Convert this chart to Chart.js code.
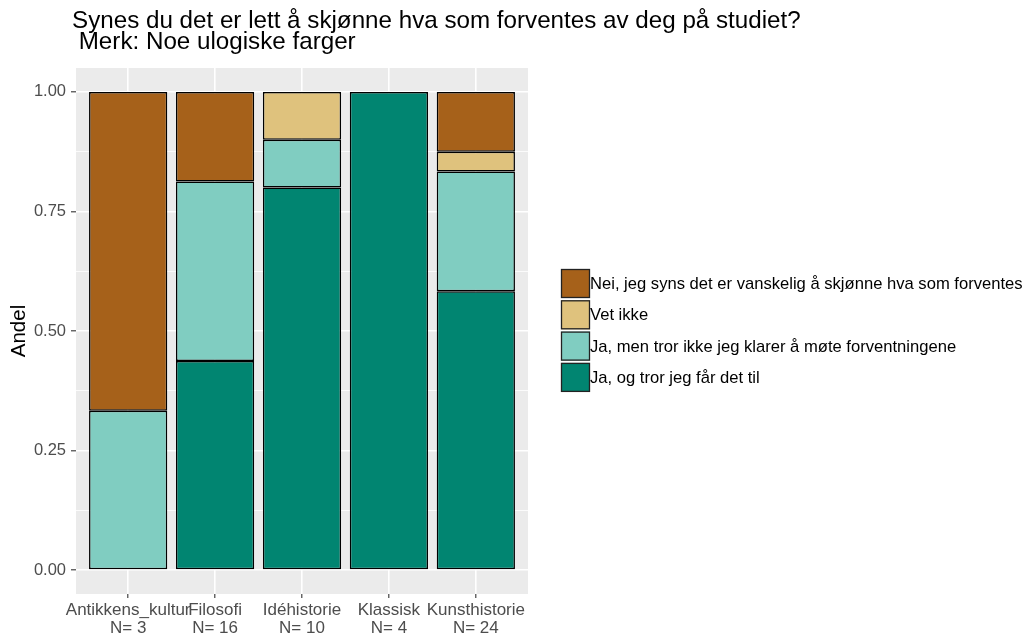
<!DOCTYPE html>
<html>
<head>
<meta charset="utf-8">
<script src="https://cdn.jsdelivr.net/npm/chart.js@4"></script>
<style>
  html, body { margin: 0; padding: 0; background: #ffffff; }
  canvas { display: block; }
</style>
</head>
<body>
<canvas id="grafico" width="1026" height="636"></canvas>
<script>
/* ===================== DATOS ===================== */

const titulo = ["Synes du det er lett å skjønne hva som forventes av deg på studiet?", " Merk: Noe ulogiske farger"];
const ejeY = "Andel";

const categorias = ["Antikkens_kultur", "Filosofi", "Idéhistorie", "Klassisk", "Kunsthistorie"];
const antall = [3, 16, 10, 4, 24];

// andeler per svaralternativ (nederst først)
const jaOg = [0, 0.4375, 0.8, 1, 0.5833];
const jaMen = [0.3333, 0.375, 0.1, 0, 0.25];
const vetIkke = [0, 0, 0.1, 0, 0.0417];
const nei = [0.6667, 0.1875, 0, 0, 0.125];

const etiquetas = [
  "Ja, og tror jeg får det til",
  "Ja, men tror ikke jeg klarer å møte forventningene",
  "Vet ikke",
  "Nei, jeg syns det er vanskelig å skjønne hva som forventes"
];
const colores = ["#018571", "#80CDC1", "#DFC27D", "#A6611A"];

const ticksY = [0, 0.125, 0.25, 0.375, 0.5, 0.625, 0.75, 0.875, 1];

/* ===================== ESTILO ===================== */

const FUENTE = "'Liberation Sans', Arial, sans-serif";
const GRIS_TEXTO = "#4D4D4D";
const esMayor = v => Math.abs(v * 4 - Math.round(v * 4)) < 1e-6;

/* ===================== PLUGINS ===================== */

const fondoPanel = {
  id: "fondoPanel",
  beforeDraw(chart) {
    const { ctx, chartArea: a } = chart;
    ctx.save();
    ctx.fillStyle = "#EBEBEB";
    ctx.fillRect(a.left, a.top, a.right - a.left, a.bottom - a.top);
    ctx.restore();
  }
};

const tituloYLeyenda = {
  id: "tituloYLeyenda",
  afterDraw(chart) {
    const { ctx } = chart;
    ctx.save();
    // titulo
    ctx.fillStyle = "#000";
    ctx.font = "24.2px " + FUENTE;
    ctx.textAlign = "left";
    ctx.textBaseline = "alphabetic";
    titulo.forEach((t, i) => ctx.fillText(t, 72, 28 + i * 20.5));

    // leyenda (orden invertido)
    const x0 = 561, y0 = 269, lado = 29, paso = 31.3;
    ctx.font = "16.6px " + FUENTE;
    ctx.textBaseline = "middle";
    chart.data.datasets.slice().reverse().forEach((ds, i) => {
      const y = y0 + i * paso;
      ctx.fillStyle = ds.backgroundColor;
      ctx.fillRect(x0, y, lado, lado);
      ctx.strokeStyle = "#222";
      ctx.lineWidth = 1.3;
      ctx.strokeRect(x0 + 0.5, y + 0.5, lado - 1, lado - 1);
      ctx.fillStyle = "#000";
      ctx.fillText(ds.label, x0 + lado, y + lado / 2 + 1);
    });
    ctx.restore();
  }
};

/* ===================== GRÁFICO ===================== */

const series = [jaOg, jaMen, vetIkke, nei];

new Chart(document.getElementById("grafico"), {
  type: "bar",
  data: {
    datasets: series.map((vals, k) => ({
      label: etiquetas[k],
      data: vals.map((v, i) => ({ x: i, y: v })),
      backgroundColor: colores[k],
      borderColor: "#000",
      borderWidth: 1.5,
      borderSkipped: false,
      barPercentage: 0.9,
      categoryPercentage: 1
    }))
  },
  options: {
    responsive: false,
    animation: false,
    layout: { padding: { top: 68, right: 498, left: 0, bottom: 0 } },
    plugins: {
      legend: { display: false },
      title: { display: false },
      tooltip: { enabled: false }
    },
    scales: {
      x: {
        type: "linear",
        stacked: true,
        offset: false,
        min: -0.6,
        max: 4.6,
        afterBuildTicks: s => { s.ticks = categorias.map((_, i) => ({ value: i })); },
        afterFit: s => { s.height = 42; },
        border: { display: false },
        grid: {
          offset: false,
          color: "#FFFFFF",
          lineWidth: 1.6,
          tickColor: "#333",
          tickLength: 4,
          tickWidth: 1.1
        },
        ticks: {
          autoSkip: false,
          maxRotation: 0,
          minRotation: 0,
          padding: 3,
          color: GRIS_TEXTO,
          font: { family: FUENTE, size: 17, lineHeight: 1.09 },
          callback: v => [categorias[v], "N= " + antall[v]]
        }
      },
      y: {
        stacked: true,
        min: -0.05,
        max: 1.05,
        afterBuildTicks: s => { s.ticks = ticksY.map(v => ({ value: v })); },
        afterFit: s => { s.width = 76; },
        border: { display: false },
        title: {
          display: true,
          text: ejeY,
          color: "#000",
          font: { family: FUENTE, size: 20.5 },
          padding: { top: 7, bottom: 0 }
        },
        grid: {
          color: "#FFFFFF",
          lineWidth: c => (esMayor(c.tick.value) ? 1.6 : 0.8),
          tickColor: c => (esMayor(c.tick.value) ? "#333" : "rgba(0,0,0,0)"),
          tickLength: 5,
          tickWidth: 1.1
        },
        ticks: {
          autoSkip: false,
          padding: 5,
          color: GRIS_TEXTO,
          font: { family: FUENTE, size: 16.5 },
          callback: v => (esMayor(v) ? v.toFixed(2) : "")
        }
      }
    }
  },
  plugins: [fondoPanel, tituloYLeyenda]
});
</script>
</body>
</html>
